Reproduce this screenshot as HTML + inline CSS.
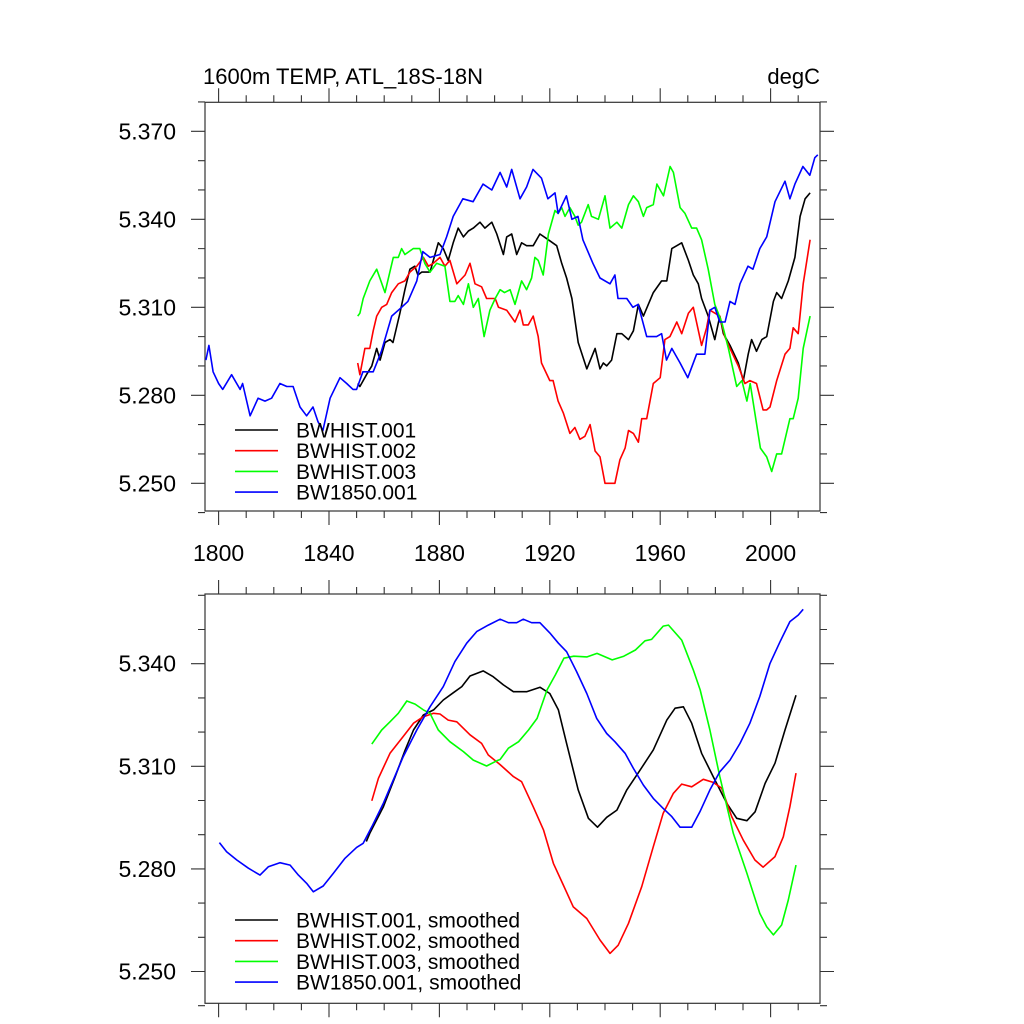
<!DOCTYPE html>
<html><head><meta charset="utf-8"><style>
html,body{margin:0;padding:0;background:#fff}
svg{display:block}
text{font-family:"Liberation Sans",sans-serif;fill:#000}
</style></head><body>
<svg id="chart" width="1024" height="1024" viewBox="0 0 1024 1024" xmlns="http://www.w3.org/2000/svg">
<text x="203" y="84" font-size="22">1600m TEMP, ATL_18S-18N</text>
<text x="820" y="84" font-size="22" text-anchor="end">degC</text>
</svg>
<script>
// ---- Top panel (raw) data ----
const blueYears=[1795.4,1796.5,1798,1800,1801.5,1804.7,1807.8,1808.7,1811.4,1814.3,1816.8,1819.2,1822.2,1824.7,1827,1829.5,1831.9,1834.2,1836,1837.8,1840.4,1844,1846.4,1848.7,1850,1852.3,1856,1859,1862.7,1866.3,1868.6,1871.8,1874,1876.6,1880.2,1882.6,1885,1888.5,1892.2,1895.8,1899,1902,1904.4,1906.2,1909.2,1911.6,1913.9,1917,1919.3,1921.9,1923,1926,1928,1930.2,1932,1935.6,1938.2,1941.8,1943.6,1944.7,1947.9,1950.1,1952,1955.1,1958.7,1960.5,1962.3,1964.2,1967.2,1970,1973.2,1976.2,1978,1979.8,1981.6,1983.5,1985.3,1987.1,1988.9,1991.8,1993.6,1996.1,1998.6,2001.6,2005.2,2007,2008.8,2011.7,2014.2,2016,2017.1];
const blueVals=[5.292,5.297,5.288,5.284,5.282,5.287,5.282,5.284,5.273,5.279,5.278,5.279,5.284,5.283,5.283,5.276,5.273,5.276,5.271,5.268,5.279,5.286,5.284,5.282,5.282,5.288,5.288,5.295,5.307,5.310,5.312,5.319,5.329,5.327,5.328,5.334,5.341,5.347,5.346,5.352,5.350,5.356,5.351,5.357,5.347,5.351,5.357,5.354,5.347,5.349,5.342,5.348,5.340,5.341,5.333,5.325,5.320,5.318,5.321,5.313,5.313,5.310,5.311,5.300,5.300,5.301,5.292,5.296,5.291,5.286,5.294,5.294,5.309,5.310,5.305,5.305,5.312,5.311,5.318,5.324,5.323,5.330,5.334,5.346,5.353,5.347,5.352,5.358,5.355,5.361,5.362];
const blackYears=[1850.4,1851.2,1853.6,1855.5,1857.3,1858.5,1860.3,1862.1,1863.2,1865.7,1867.5,1869.3,1871.1,1872.2,1873.6,1876.6,1879.6,1881.4,1883.2,1885,1886.8,1888.7,1890.5,1892.3,1894.7,1896.5,1899,1900.8,1903.2,1904.4,1906.2,1908,1909.8,1911.6,1914,1916.4,1919.5,1922.5,1924.3,1926.1,1928,1930.3,1933.4,1936.4,1938.2,1939.4,1940.6,1942.4,1944.3,1946.1,1948.5,1950.3,1952.1,1953.9,1957.5,1960.5,1962.4,1964.2,1966,1967.8,1970.2,1972,1973.8,1975,1977.4,1979.8,1981.6,1982.9,1985.3,1988.3,1990.1,1991.9,1993.1,1994.9,1996.8,1998.6,2001,2002.2,2004,2006.4,2008.8,2010.7,2012.5,2014.3];
const blackVals=[5.284,5.283,5.287,5.290,5.296,5.292,5.298,5.299,5.298,5.308,5.316,5.323,5.324,5.321,5.322,5.322,5.332,5.330,5.326,5.332,5.337,5.334,5.336,5.337,5.339,5.337,5.339,5.335,5.328,5.334,5.335,5.328,5.332,5.331,5.331,5.335,5.333,5.331,5.325,5.320,5.313,5.298,5.289,5.296,5.289,5.291,5.290,5.292,5.301,5.301,5.299,5.302,5.311,5.307,5.315,5.319,5.319,5.330,5.331,5.332,5.326,5.321,5.318,5.313,5.307,5.299,5.307,5.301,5.297,5.291,5.285,5.294,5.299,5.295,5.299,5.300,5.312,5.315,5.313,5.319,5.327,5.341,5.347,5.349];
const redYears=[1850.4,1851.2,1853,1854.8,1856,1857.3,1859.1,1860.9,1862.7,1865.1,1867.5,1869.3,1871.8,1874.2,1876,1877.8,1880.2,1882,1883.8,1886.3,1889.3,1891.1,1892.9,1895.3,1897.1,1900.2,1901.4,1904.4,1907.4,1909.2,1910.4,1912.2,1914,1915.8,1917,1920,1921.2,1923,1924.9,1927.3,1929.1,1930.9,1932.7,1934.6,1936.4,1938.2,1940,1941.8,1943.6,1945.4,1947.3,1948.5,1950.3,1952.1,1953.3,1955.1,1957.5,1960,1961.7,1963.5,1966,1967.8,1970.2,1972,1975,1976.8,1978,1981.6,1983.4,1985.3,1988.3,1990.7,1992.5,1994.9,1997.3,1998.6,1999.8,2002.2,2005.2,2007,2008.2,2010,2011.8,2014.3];
const redVals=[5.291,5.287,5.296,5.296,5.302,5.307,5.310,5.311,5.315,5.318,5.319,5.322,5.324,5.327,5.324,5.325,5.327,5.324,5.326,5.318,5.321,5.325,5.318,5.317,5.313,5.313,5.310,5.309,5.305,5.309,5.304,5.304,5.307,5.300,5.291,5.285,5.285,5.278,5.274,5.267,5.269,5.265,5.266,5.270,5.261,5.259,5.250,5.250,5.250,5.258,5.262,5.268,5.267,5.264,5.272,5.272,5.284,5.286,5.299,5.300,5.305,5.301,5.308,5.310,5.297,5.303,5.309,5.307,5.300,5.296,5.290,5.284,5.285,5.284,5.275,5.275,5.276,5.285,5.294,5.296,5.303,5.301,5.318,5.333];
const greenYears=[1850.4,1851.2,1852.4,1854.8,1857.3,1860.3,1863.3,1865.1,1866.3,1867.5,1870.5,1872.9,1874.7,1876.6,1879,1882,1883.8,1885.6,1886.8,1888.7,1890.5,1892.3,1894.1,1896.2,1898.3,1900.2,1902,1903.6,1905.6,1907.4,1909.8,1911.6,1913.4,1914.6,1915.8,1917.6,1919.5,1921.9,1923,1924.3,1925.5,1927.3,1929.1,1930.3,1931.5,1933.9,1935.1,1937.6,1940,1941.8,1944.3,1946.1,1948.5,1950.3,1952.1,1953.9,1955.1,1957.5,1958.8,1961.2,1963.6,1964.8,1967.2,1969,1971.4,1973.2,1975,1977.4,1979.8,1982.3,1984.7,1987.7,1989.6,1991.4,1992.6,1996.3,1998.6,2000.4,2002.2,2004,2007,2008.2,2010,2011.8,2014.3];
const greenVals=[5.307,5.308,5.313,5.319,5.323,5.315,5.327,5.327,5.330,5.328,5.330,5.330,5.325,5.322,5.325,5.324,5.312,5.312,5.314,5.311,5.318,5.310,5.313,5.300,5.309,5.313,5.316,5.315,5.316,5.311,5.319,5.316,5.320,5.327,5.326,5.321,5.335,5.343,5.342,5.344,5.341,5.344,5.341,5.338,5.339,5.345,5.341,5.340,5.348,5.337,5.339,5.337,5.345,5.348,5.346,5.341,5.344,5.345,5.352,5.348,5.358,5.356,5.344,5.342,5.337,5.337,5.333,5.323,5.311,5.305,5.296,5.283,5.285,5.278,5.284,5.262,5.259,5.254,5.260,5.260,5.272,5.272,5.279,5.296,5.307];
// ---- Bottom panel (smoothed) data ----
const sBlueYears=[1800.3,1802.9,1806.6,1810.8,1815,1818,1822.2,1825.9,1828.9,1831.9,1834.3,1837.9,1841.6,1845.8,1850,1852.4,1855.5,1859.7,1863.3,1866.9,1871.8,1876.6,1881.4,1885.6,1889.9,1893.5,1897.7,1902,1905,1908,1910.4,1913.4,1916.4,1920,1923.1,1926.1,1929.7,1933.4,1937,1940.6,1943.6,1947.3,1950.3,1953.9,1957.5,1961.1,1964.2,1967.2,1971.4,1974.4,1978,1981.6,1985.3,1988.9,1992.5,1996.1,1999.8,2003.4,2007,2010,2011.8];
const sBlueVals=[5.2877,5.2850,5.2826,5.2802,5.2782,5.2806,5.2818,5.2811,5.2782,5.2758,5.2733,5.2750,5.2787,5.2831,5.2863,5.2875,5.2923,5.2992,5.3060,5.3128,5.3206,5.3274,5.3333,5.3406,5.3460,5.3494,5.3513,5.3530,5.3520,5.3520,5.3530,5.3520,5.3520,5.3490,5.3460,5.3435,5.3377,5.3313,5.3240,5.3196,5.3172,5.3138,5.3094,5.3045,5.3006,5.2977,5.2953,5.2922,5.2922,5.2967,5.3031,5.3084,5.3118,5.3167,5.3226,5.3304,5.3401,5.3464,5.3523,5.3542,5.3559];
const sBlackYears=[1853.5,1854.8,1859.7,1864,1867.6,1870.6,1874.2,1877.9,1881.4,1885,1888.1,1891.1,1895.9,1899.5,1903.2,1906.8,1911.6,1916.5,1920,1923.1,1926.1,1930.3,1934,1937.3,1940.6,1944.3,1947.9,1952.7,1957.5,1962.4,1965.4,1968.4,1971.4,1975,1979.2,1984.1,1987.7,1991.4,1994.4,1998,2001.6,2005.2,2009.2];
const sBlackVals=[5.2880,5.2904,5.2982,5.3070,5.3148,5.3206,5.3250,5.3265,5.3294,5.3315,5.3333,5.3364,5.3379,5.3362,5.3338,5.3318,5.3318,5.3331,5.3313,5.3265,5.3167,5.3031,5.2948,5.2922,5.2951,5.2972,5.3031,5.3089,5.3148,5.3235,5.3270,5.3274,5.3226,5.3138,5.3070,5.2992,5.2948,5.2941,5.2967,5.3050,5.3109,5.3206,5.3308];
const sRedYears=[1855.5,1857.9,1862.1,1866.9,1870.6,1874.2,1877.9,1880.2,1883.2,1886.3,1891.1,1895.3,1897.7,1902,1906.8,1909.8,1914,1917.7,1921.3,1924.9,1928.5,1933.4,1938.2,1941.8,1944.8,1948.5,1953.3,1957.5,1961.1,1964.8,1967.8,1971.4,1975.6,1979.2,1982.3,1985.9,1990.1,1994.3,1997.3,2001.6,2004.6,2007,2009.2];
const sRedVals=[5.2999,5.3065,5.3138,5.3187,5.3226,5.3245,5.3255,5.3253,5.3235,5.3230,5.3192,5.3167,5.3133,5.3105,5.3070,5.3055,5.2982,5.2914,5.2816,5.2753,5.2689,5.2655,5.2592,5.2553,5.2577,5.2641,5.2748,5.2865,5.2963,5.3021,5.3048,5.3040,5.3062,5.3053,5.3036,5.2953,5.2884,5.2826,5.2805,5.2836,5.2894,5.2982,5.3080];
const sGreenYears=[1855.5,1859.1,1862.1,1865.1,1868.2,1871.2,1874.2,1876.6,1879.6,1883.8,1888.7,1892.3,1897.1,1900.8,1902,1905,1908.7,1912.3,1915.4,1919,1922,1925.1,1928.7,1933.5,1937.1,1942.6,1946.8,1951,1954.5,1956.9,1961.1,1963,1967.8,1972,1974.5,1978,1981.6,1986.5,1991.4,1996.1,1998.6,2001,2004,2006.4,2009.2];
const sGreenVals=[5.3165,5.3206,5.3230,5.3255,5.3291,5.3282,5.3265,5.3255,5.3206,5.3172,5.3143,5.3118,5.3101,5.3116,5.3120,5.3153,5.3172,5.3206,5.3240,5.3323,5.3367,5.3416,5.3422,5.3420,5.3430,5.3411,5.3422,5.3440,5.3467,5.3471,5.3510,5.3513,5.3469,5.3382,5.3323,5.3206,5.3070,5.2904,5.2787,5.2670,5.2631,5.2607,5.2636,5.2709,5.2811];
// ---- Tick labels ----
const xTickLabels=[1800,1840,1880,1920,1960,2000];
const topYTicks=[5.370,5.340,5.310,5.280,5.250];
const botYTicks=[5.340,5.310,5.280,5.250];
const topLegend=["BWHIST.001","BWHIST.002","BWHIST.003","BW1850.001"];
const botLegend=["BWHIST.001, smoothed","BWHIST.002, smoothed","BWHIST.003, smoothed","BW1850.001, smoothed"];

const NS="http://www.w3.org/2000/svg";
const svg=document.getElementById('chart');
function mk(tag,attrs,parent){const e=document.createElementNS(NS,tag);for(const k in attrs)e.setAttribute(k,attrs[k]);(parent||svg).appendChild(e);return e;}
const X0=205,X1=820;
function xs(yr){return 218.6+(yr-1800)*2.76;}
const topY=v=>219.3+(5.340-v)*2933;
const botY=v=>663.7+(5.340-v)*3420;
const colors=["#000000","#ff0000","#00ff00","#0000ff"];

function panel(name,top,bottom,yfn,ymin,ymax,yTicks){
  const g=mk('g',{});
  
  
  const box=mk('rect',{x:X0,y:top,width:X1-X0,height:bottom-top,fill:'none',stroke:'#333','stroke-width':1.2},g);
  
  
  let d='';
  for(let yr=1800;yr<=2010;yr+=10){
    const x=xs(yr),L=(yr%40===0)?14:7;
    d+=`M${x} ${top}V${top-L}M${x} ${bottom}V${bottom+L}`;
  }
  for(let k=Math.ceil(ymin*100-1e-6);k<=Math.floor(ymax*100+1e-6);k++){
    const v=k/100,y=yfn(v);
    const L=(k%3===0)?14:7;
    d+=`M${X0} ${y}H${X0-L}M${X1} ${y}H${X1+L}`;
  }
  const t=mk('path',{d:d,stroke:'#333','stroke-width':1.1,fill:'none'},g);
  
  
  yTicks.forEach(v=>{
    const tx=mk('text',{x:176,y:yfn(v)+8,'font-size':23,'text-anchor':'end'},g);
    tx.textContent=v.toFixed(3);
    
    
  });
  return g;
}
function line(g,years,vals,yfn,color,name){
  const d=years.map((yr,i)=>(i?'L':'M')+xs(yr).toFixed(1)+' '+yfn(vals[i]).toFixed(1)).join('');
  const p=mk('path',{d:d,stroke:color,'stroke-width':1.6,fill:'none','stroke-linejoin':'round'},g);
  
  
}
function legend(g,labels,y0,name){
  labels.forEach((lab,i)=>{
    const y=y0+i*20.7;
    const l=mk('line',{x1:235,x2:278,y1:y,y2:y,stroke:colors[i],'stroke-width':1.6},g);
    
    
    const t=mk('text',{x:296,y:y+7.5,'font-size':21},g);
    t.textContent=lab;
    
    
  });
}
const gt=panel('top-panel',102.3,511,topY,5.24,5.38,topYTicks);
line(gt,blackYears,blackVals,topY,colors[0],'series-bwhist-001');
line(gt,redYears,redVals,topY,colors[1],'series-bwhist-002');
line(gt,greenYears,greenVals,topY,colors[2],'series-bwhist-003');
line(gt,blueYears,blueVals,topY,colors[3],'series-bw1850-001');
legend(gt,topLegend,430,'top-legend');
xTickLabels.forEach(yr=>{
  const t=mk('text',{x:xs(yr),y:561,'font-size':23,'text-anchor':'middle'},gt);
  t.textContent=yr;
  
  
});
const gb=panel('bottom-panel',594,1003.3,botY,5.24,5.36,botYTicks);
line(gb,sBlackYears,sBlackVals,botY,colors[0],'smoothed-bwhist-001');
line(gb,sRedYears,sRedVals,botY,colors[1],'smoothed-bwhist-002');
line(gb,sGreenYears,sGreenVals,botY,colors[2],'smoothed-bwhist-003');
line(gb,sBlueYears,sBlueVals,botY,colors[3],'smoothed-bw1850-001');
legend(gb,botLegend,920,'bottom-legend');
</script>
</body></html>
